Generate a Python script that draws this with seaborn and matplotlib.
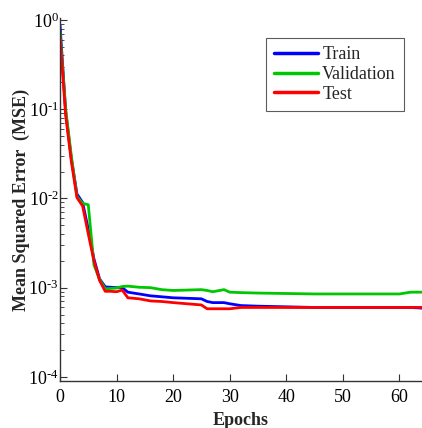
import numpy as np
import pandas as pd
import seaborn as sns
import matplotlib.pyplot as plt
from matplotlib.ticker import FuncFormatter

# values (MSE per epoch)
epochs = [0, 1, 2, 3, 4, 5, 6, 7, 8, 9, 10, 11, 12, 14, 16, 18, 20, 25, 26, 27,
          29, 30, 32, 35, 40, 45, 50, 55, 60, 62, 64]
train = [0.88, 0.095, 0.028, 0.0112, 0.0090, 0.0045, 0.0021, 0.00125, 0.00102, 0.00101, 0.00100,
         0.00100, 0.00089, 0.00085, 0.00081, 0.00079, 0.00077, 0.00075, 0.00070, 0.00068,
         0.00068, 0.00066, 0.00063, 0.00062, 0.00061, 0.00060, 0.00060, 0.00060, 0.00060, 0.00060, 0.00059]
validation = [0.73, 0.10, 0.030, 0.0105, 0.0088, 0.0085, 0.0018, 0.00123, 0.00097, 0.00098, 0.00099,
              0.00103, 0.00104, 0.00101, 0.00100, 0.00095, 0.00093, 0.00095, 0.00093, 0.00090,
              0.00095, 0.00089, 0.00088, 0.00087, 0.00086, 0.00085, 0.00085, 0.00085, 0.00085, 0.00089, 0.00089]
test = [0.66, 0.085, 0.026, 0.0102, 0.0082, 0.0040, 0.0020, 0.00120, 0.00091, 0.00091, 0.00090,
        0.00094, 0.00077, 0.00075, 0.00071, 0.00070, 0.00068, 0.00064, 0.00058, 0.00058,
        0.00058, 0.00058, 0.00060, 0.00060, 0.00060, 0.00060, 0.00060, 0.00060, 0.00060, 0.00060, 0.00060]
series_names = ['Train', 'Validation', 'Test']
colors = ['#0000ff', '#00c800', '#ff0000']
y_ticks = [1e-4, 1e-3, 1e-2, 1e-1, 1e0]

df = pd.DataFrame({'Epochs': epochs, 'Train': train, 'Validation': validation, 'Test': test})
long_df = df.melt(id_vars='Epochs', var_name='Set', value_name='MSE')

sns.set_style("ticks")
plt.rcParams['font.family'] = ['Liberation Serif', 'DejaVu Serif']
plt.rcParams['mathtext.fontset'] = 'custom'
plt.rcParams['mathtext.rm'] = 'Liberation Serif'
plt.rcParams['mathtext.it'] = 'Liberation Serif'

fig = plt.figure(figsize=(4.22, 4.28), dpi=100)
ax = fig.add_axes([60 / 422, 1 - 381 / 428, 362 / 422, 363 / 428])

sns.lineplot(data=long_df, x='Epochs', y='MSE', hue='Set', hue_order=series_names,
             palette=colors, linewidth=2, ax=ax)

ax.set_yscale('log')
ax.set_ylim(0.9e-4, 1.05)
ax.set_xlim(0, 64)
ax.set_xticks([0, 10, 20, 30, 40, 50, 60])
ax.set_yticks(y_ticks)


def pow_label(v, pos):
    e = int(round(np.log10(v)))
    if e < 0:
        return r'$10^{\text{-}%d}$' % (-e)
    return r'$10^{%d}$' % e


ax.yaxis.set_major_formatter(FuncFormatter(pow_label))

for side in ['top', 'right']:
    ax.spines[side].set_visible(False)
for side in ['left', 'bottom']:
    ax.spines[side].set_color('#333333')
    ax.spines[side].set_linewidth(1.0)

ax.tick_params(axis='both', which='major', direction='in', length=5, width=0.8,
               color='#333333', labelsize=13, labelcolor='black')
ax.tick_params(axis='x', which='major', pad=6)
ax.tick_params(axis='y', which='major', pad=1)
ax.tick_params(axis='y', which='minor', direction='in', length=3, width=0.6, color='#333333')

ax.set_xlabel('Epochs', fontsize=13, fontweight='bold', labelpad=4)
ax.set_ylabel('Mean Squared Error  (MSE)', fontsize=13, fontweight='bold', labelpad=-1)

leg = ax.legend(loc='upper right', bbox_to_anchor=(344 / 362, 1 - 20 / 363),
                fontsize=13, frameon=True, fancybox=False, handlelength=2.4,
                borderpad=0.45, labelspacing=0.15, handletextpad=0.25, borderaxespad=0)
leg.get_frame().set_edgecolor('#333333')
leg.get_frame().set_linewidth(0.8)
for line in leg.get_lines():
    line.set_linewidth(2.5)

fig.savefig('out.png', dpi=100)
